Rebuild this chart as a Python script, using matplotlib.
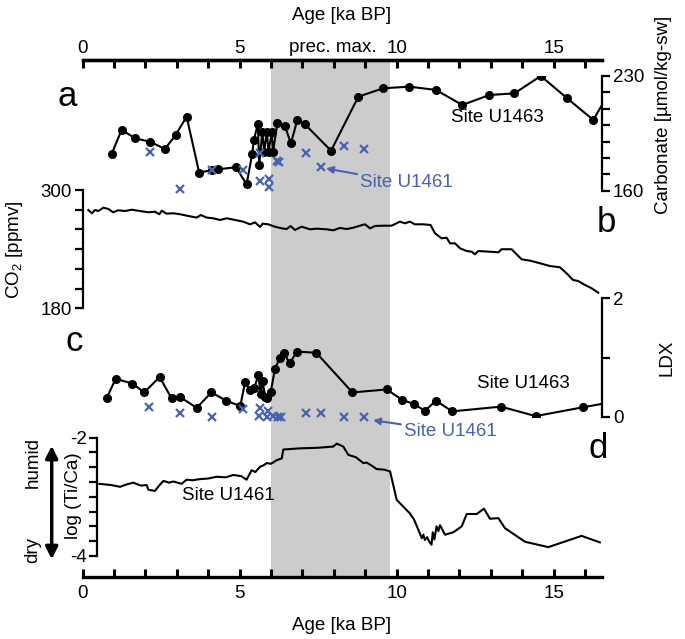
import matplotlib
matplotlib.use("Agg")
import matplotlib.pyplot as plt
import numpy as np

plt.rcParams["font.family"] = ["Liberation Sans", "DejaVu Sans"]
plt.rcParams["mathtext.fontset"] = "custom"
plt.rcParams["mathtext.rm"] = "Liberation Sans"
plt.rcParams["axes.unicode_minus"] = False

# --- data ---
carb_age = [0.92, 1.24, 1.67, 2.14, 2.62, 2.96, 3.31, 3.71, 4.11, 4.32, 4.88, 5.22,
            5.40, 5.45, 5.58, 5.62, 5.72, 5.78, 5.86, 5.92, 6.02, 6.06, 6.20, 6.44,
            6.63, 6.84, 7.08, 7.91, 8.78, 9.57, 10.40, 11.25, 12.09, 12.95, 13.75,
            14.59, 15.43, 16.26, 16.70]
carb_val = [182.4, 197.1, 192.0, 189.9, 185.5, 194.0, 205.2, 171.0, 172.6, 173.1, 174.3, 163.9,
            182.6, 190.8, 200.9, 175.4, 196.0, 183.6, 196.0, 183.6, 196.0, 183.6, 201.1, 199.5,
            188.9, 203.4, 200.5, 184.4, 217.4, 222.5, 223.5, 221.5, 212.3, 218.4, 219.4,
            230.0, 216.4, 203.2, 217.5]

carb61_age = [2.14, 3.10, 4.11, 5.11, 5.65, 5.65, 5.94, 5.94, 6.20, 6.26, 7.11, 7.59, 8.32, 8.96]
carb61_val = [183.4, 161.1, 172.6, 172.6, 182.8, 165.9, 167.2, 162.1, 178.3, 177.5, 182.8, 174.3, 187.4, 185.4]

co2_age = [0.18, 0.29, 0.39, 0.50, 0.66, 0.82, 0.97, 1.13, 1.35, 1.56, 1.82, 2.09, 2.30, 2.44,
           2.52, 2.67, 2.89, 3.10, 3.31, 3.63, 3.76, 3.95, 4.16, 4.37, 4.59, 4.85, 5.11, 5.33,
           5.49, 5.65, 5.73, 5.91, 6.12, 6.34, 6.50, 6.62, 6.76, 6.97, 7.24, 7.45, 7.77, 7.98,
           8.19, 8.41, 8.62, 8.83, 8.99, 9.15, 9.31, 9.57, 9.84, 10.10, 10.26, 10.42, 10.58,
           10.85, 11.08, 11.22, 11.43, 11.59, 11.70, 11.86, 12.02, 12.23, 12.39, 12.49, 12.60,
           12.97, 13.24, 13.34, 13.66, 13.98, 14.25, 14.56, 14.88, 15.20, 15.41, 15.62, 15.78,
           16.00, 16.21, 16.42]
co2_val = [279.7, 276.4, 279.7, 278.7, 282.1, 280.7, 277.4, 279.4, 278.7, 280.0, 278.7, 277.4,
           278.0, 275.4, 279.0, 276.0, 276.4, 275.4, 274.0, 272.0, 274.6, 272.0, 271.3, 269.6,
           271.3, 269.6, 267.9, 265.2, 267.2, 262.5, 265.8, 265.2, 262.8, 261.1, 260.4, 263.5,
           259.4, 262.8, 260.1, 260.8, 260.1, 259.1, 261.5, 260.4, 261.8, 263.8, 265.2, 261.1,
           263.5, 263.8, 263.8, 267.9, 266.2, 267.9, 265.2, 265.2, 264.5, 256.1, 251.0, 251.6,
           245.9, 245.9, 240.8, 238.1, 237.4, 234.8, 238.1, 237.4, 236.8, 239.9, 239.9, 229.7,
           228.3, 225.7, 222.9, 221.6, 215.5, 208.7, 207.7, 203.6, 200.3, 195.8]

ldx_age = [0.76, 1.05, 1.58, 1.96, 2.45, 2.83, 3.11, 3.63, 4.10, 4.57, 5.02, 5.17, 5.32,
           5.47, 5.59, 5.67, 5.73, 5.81, 5.86, 5.99, 6.12, 6.28, 6.42, 6.59, 6.82, 7.44,
           8.59, 9.68, 10.16, 10.56, 10.90, 11.25, 11.77, 13.32, 14.43, 15.94, 16.90]
ldx_val = [0.31, 0.64, 0.56, 0.41, 0.67, 0.31, 0.33, 0.15, 0.41, 0.27, 0.18, 0.58, 0.45,
           0.49, 0.70, 0.38, 0.60, 0.34, 0.31, 0.42, 0.80, 1.00, 1.07, 0.90, 1.10, 1.08,
           0.41, 0.46, 0.29, 0.21, 0.10, 0.27, 0.09, 0.17, 0.01, 0.16, 0.25]

ldx61_age = [2.12, 3.10, 4.11, 5.11, 5.62, 5.65, 5.86, 5.91, 6.07, 6.23, 6.31, 7.11, 7.59, 8.32, 8.96]
ldx61_val = [0.17, 0.07, 0.00, 0.13, 0.01, 0.15, 0.00, 0.10, 0.01, 0.00, 0.00, 0.06, 0.07, 0.00, 0.00]

ti_age = [0.53, 0.90, 1.19, 1.40, 1.61, 1.85, 2.04, 2.09, 2.30, 2.45,
          2.57, 2.75, 2.89, 3.15, 3.31, 3.50, 3.74, 4.00, 4.27, 4.55,
          4.80, 5.05, 5.22, 5.38, 5.50, 5.65, 5.75, 5.86, 6.00, 6.18,
          6.34, 6.39, 6.92, 7.50, 7.98, 8.09, 8.30, 8.46, 8.70, 8.94,
          9.04, 9.20, 9.36, 9.60, 9.79, 10.00, 10.42, 10.55, 10.74, 10.80,
          10.85, 10.90, 10.97, 11.03, 11.11, 11.15, 11.20, 11.27, 11.33, 11.38,
          11.54, 11.80, 12.07, 12.23, 12.55, 12.78, 12.97, 13.24, 13.45, 14.09,
          14.83, 15.89, 16.47]
ti_val = [-2.78, -2.80, -2.83, -2.79, -2.76, -2.81, -2.80, -2.88, -2.90, -2.80,
          -2.73, -2.76, -2.74, -2.78, -2.71, -2.72, -2.70, -2.69, -2.66, -2.67,
          -2.63, -2.65, -2.71, -2.55, -2.58, -2.49, -2.47, -2.43, -2.44, -2.38,
          -2.35, -2.20, -2.18, -2.17, -2.15, -2.10, -2.15, -2.29, -2.33, -2.43,
          -2.42, -2.47, -2.53, -2.54, -2.57, -3.05, -3.28, -3.38, -3.62, -3.70,
          -3.64, -3.73, -3.68, -3.75, -3.81, -3.60, -3.72, -3.50, -3.58, -3.48,
          -3.64, -3.60, -3.50, -3.29, -3.29, -3.20, -3.37, -3.36, -3.53, -3.76,
          -3.85, -3.66, -3.77]

prec_max = (6.0, 9.8)

W, H = 685, 639
BLUE = "#4862b0"
FS = 13.5


def box(x0, y0, x1, y1):
    return [x0 / W, 1 - y1 / H, (x1 - x0) / W, (y1 - y0) / H]


def ftext(x, y, s, size=FS, **kw):
    fig.text(x / W, 1 - y / H, s, ha="center", va="center", fontsize=size, **kw)


fig = plt.figure(figsize=(W / 100, H / 100), dpi=100)

XL = (0, 16.53)
XL_PX = (82.7, 601.7)

# background axes: shared age axes top and bottom + shading
ax0 = fig.add_axes(box(XL_PX[0], 60, XL_PX[1], 576.7))
ax0.set_xlim(*XL)
ax0.set_ylim(0, 1)
ax0.axvspan(*prec_max, color="#cccccc", lw=0, zorder=0)
for s in ["left", "right"]:
    ax0.spines[s].set_visible(False)
for s in ["top", "bottom"]:
    ax0.spines[s].set_linewidth(2.4)
ax0.set_yticks([])
ax0.set_xticks([0, 5, 10, 15])
ax0.set_xticks(np.arange(0, 17, 1), minor=True)
ax0.tick_params(axis="x", which="both", direction="in", length=6, width=2.2,
                top=False, bottom=True, labeltop=False, labelbottom=True, labelsize=FS)
ax0.tick_params(axis="x", which="major", pad=6)

# top age axis
axt = ax0.twiny()
axt.set_xlim(*XL)
axt.set_xticks([0, 5, 10, 15])
axt.set_xticks(np.arange(0, 17, 1), minor=True)
axt.tick_params(axis="x", which="both", direction="in", length=6, width=2.2,
                labelsize=FS)
axt.tick_params(axis="x", which="major", pad=2.5)
for s in ["left", "right", "bottom"]:
    axt.spines[s].set_visible(False)
axt.spines["top"].set_linewidth(2.4)

ftext(342, 15, "Age [ka BP]")
ftext(342, 625, "Age [ka BP]")
ftext(333, 48, "prec. max.")


def panel(rect, ylim, side):
    ax = fig.add_axes(rect)
    ax.patch.set_alpha(0)
    ax.set_xlim(*XL)
    ax.set_ylim(*ylim)
    ax.xaxis.set_visible(False)
    for s in ["left", "right", "top", "bottom"]:
        ax.spines[s].set_visible(s == side)
    ax.spines[side].set_linewidth(1.6)
    if side == "right":
        ax.yaxis.tick_right()
    ax.tick_params(axis="y", direction="out", length=6, width=1.6, labelsize=FS, pad=2)
    return ax


def sparse_labels(ax, ticks, shown):
    ax.set_yticks(ticks)
    ax.set_yticklabels([("%g" % t if t in shown else "") for t in ticks])


# a: carbonate
ax_a = panel(box(XL_PX[0], 76, XL_PX[1], 190.7), (160, 230), "right")
sparse_labels(ax_a, list(range(160, 231, 10)), [160, 230])
ax_a.plot(carb_age, carb_val, "-o", color="k", lw=1.5, ms=5.5)
ax_a.plot(carb61_age, carb61_val, "x", color=BLUE, ms=6, mew=1.6, clip_on=False)
ax_a.text(13.2, 204.4, "Site U1463", ha="center", va="center", fontsize=FS)
ax_a.annotate("Site U1461", xy=(7.75, 173.6), xytext=(10.3, 164.7), color=BLUE,
              fontsize=FS, ha="center", va="center",
              arrowprops=dict(arrowstyle="-|>", color=BLUE, lw=1.5, shrinkA=40, shrinkB=0,
                              mutation_scale=10))
ftext(67, 97, "a", size=25)
ftext(663, 115, "Carbonate [µmol/kg-sw]", rotation=90)

# b: CO2
ax_b = panel(box(XL_PX[0], 190, XL_PX[1], 308.3), (180, 300), "left")
sparse_labels(ax_b, list(range(180, 301, 20)), [180, 300])
ax_b.plot(co2_age, co2_val, color="k", lw=1.5)
ftext(606, 222, "b", size=25)
ftext(15, 250, "CO$_\\mathrm{2}$ [ppmv]", rotation=90)

# c: LDX
ax_c = panel(box(XL_PX[0], 298.3, XL_PX[1], 416.7), (0, 2), "right")
sparse_labels(ax_c, [0, 1, 2], [0, 2])
ax_c.plot(ldx_age, ldx_val, "-o", color="k", lw=1.5, ms=5.5)
ax_c.plot(ldx61_age, ldx61_val, "x", color=BLUE, ms=6, mew=1.6, clip_on=False)
ax_c.text(14.05, 0.56, "Site U1463", ha="center", va="center", fontsize=FS)
ax_c.annotate("Site U1461", xy=(9.25, -0.06), xytext=(11.7, -0.25), color=BLUE,
              fontsize=FS, ha="center", va="center", annotation_clip=False,
              arrowprops=dict(arrowstyle="-|>", color=BLUE, lw=1.5, shrinkA=42, shrinkB=0,
                              mutation_scale=10))
ftext(74, 342, "c", size=25)
ftext(667, 358, "LDX", rotation=90)

# d: log(Ti/Ca)
ax_d = panel(box(XL_PX[0], 437.7, XL_PX[1], 556), (-4, -2), "left")
ax_d.spines["left"].set_position(("data", 0.45))
sparse_labels(ax_d, list(np.arange(-4, -1.99, 0.25)), [-4, -2])
ax_d.tick_params(axis="y", pad=1)
ax_d.plot(ti_age, ti_val, color="k", lw=1.5)
ax_d.text(4.65, -2.98, "Site U1461", ha="center", va="center", fontsize=FS)
ftext(598, 449, "d", size=25)
ftext(73, 496, "log (Ti/Ca)", rotation=90)
ftext(33, 463, "humid", rotation=90)
ftext(33, 550, "dry", rotation=90)
fig.patches.append(matplotlib.patches.FancyArrowPatch(
    (51.7 / W, 1 - 443 / H), (51.7 / W, 1 - 562 / H), transform=fig.transFigure,
    arrowstyle="<|-|>", mutation_scale=18, lw=2.5, color="k"))

fig.savefig("out.png", dpi=100)
